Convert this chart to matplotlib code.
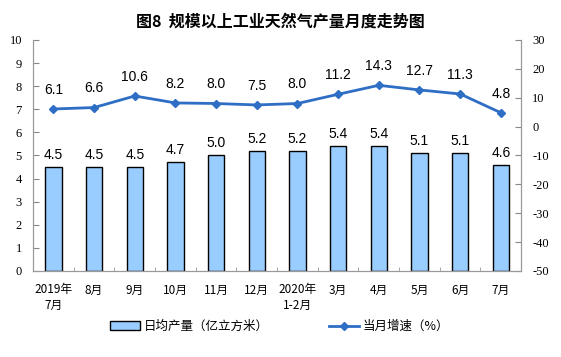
import matplotlib.pyplot as plt
import numpy as np
from matplotlib.ticker import MultipleLocator, FixedLocator

plt.rcParams['font.family'] = ['Noto Sans CJK SC', 'DejaVu Sans']
plt.rcParams['axes.unicode_minus'] = False

months = ["2019年\n7月", "8月", "9月", "10月", "11月", "12月", "2020年\n1-2月",
          "3月", "4月", "5月", "6月", "7月"]
output = [4.5, 4.5, 4.5, 4.7, 5.0, 5.2, 5.2, 5.4, 5.4, 5.1, 5.1, 4.6]
growth = [6.1, 6.6, 10.6, 8.2, 8.0, 7.5, 8.0, 11.2, 14.3, 12.7, 11.3, 4.8]

fig = plt.figure(figsize=(5.61, 3.57), dpi=100)
ax = fig.add_axes([0.059, 0.241, 0.87, 0.647])
ax2 = ax.twinx()

x = np.arange(len(months))
bars = ax.bar(x, output, width=0.4, color="#99CCFF", edgecolor="black",
              linewidth=1.0, label="日均产量（亿立方米）", zorder=2)
line, = ax2.plot(x, growth, color="#2E6EC4", linewidth=2, marker="D",
                 markersize=4, label="当月增速（%）", zorder=3)

for xi, v in zip(x, output):
    ax.text(xi, v + 0.22, f"{v:.1f}", ha="center", va="bottom",
            fontsize=10, family="Liberation Sans")
for xi, v in zip(x, growth):
    ax2.text(xi, v + 4.2, f"{v:.1f}", ha="center", va="bottom",
             fontsize=10, family="Liberation Sans")

ax.set_xlim(-0.5, len(months) - 0.5)
ax.set_ylim(0, 10)
ax.yaxis.set_major_locator(MultipleLocator(1))
ax2.set_ylim(-50, 30)
ax2.yaxis.set_major_locator(MultipleLocator(10))

ax.set_xticks(x)
ax.set_xticklabels(months, fontsize=8.5, linespacing=1.25)
ax.tick_params(axis="x", length=0, pad=9)
ax.xaxis.set_minor_locator(FixedLocator(np.arange(-0.5, len(months), 1)))
ax.tick_params(axis="x", which="minor", direction="in", length=3, color="#999999")

ax.tick_params(axis="y", direction="in", length=4, labelsize=9, color="#888888", pad=8)
ax2.tick_params(axis="y", direction="in", length=4, labelsize=9, color="#888888", pad=8)
for lab in ax.get_yticklabels() + ax2.get_yticklabels():
    lab.set_family("Liberation Serif")

for a in (ax, ax2):
    a.spines["top"].set_visible(False)
    for s in ("left", "right", "bottom"):
        a.spines[s].set_color("#999999")
        a.spines[s].set_linewidth(0.8)

fig.text(0.5, 0.94, "图8  规模以上工业天然气产量月度走势图", ha="center",
         va="center", fontsize=11.5, fontweight="bold")

fig.legend(handles=[bars, line], loc="center", bbox_to_anchor=(0.498, 0.085),
           ncol=2, frameon=False, fontsize=9, handlelength=2.4,
           columnspacing=4.8, handletextpad=0.3)

fig.savefig("out.png", dpi=100)
